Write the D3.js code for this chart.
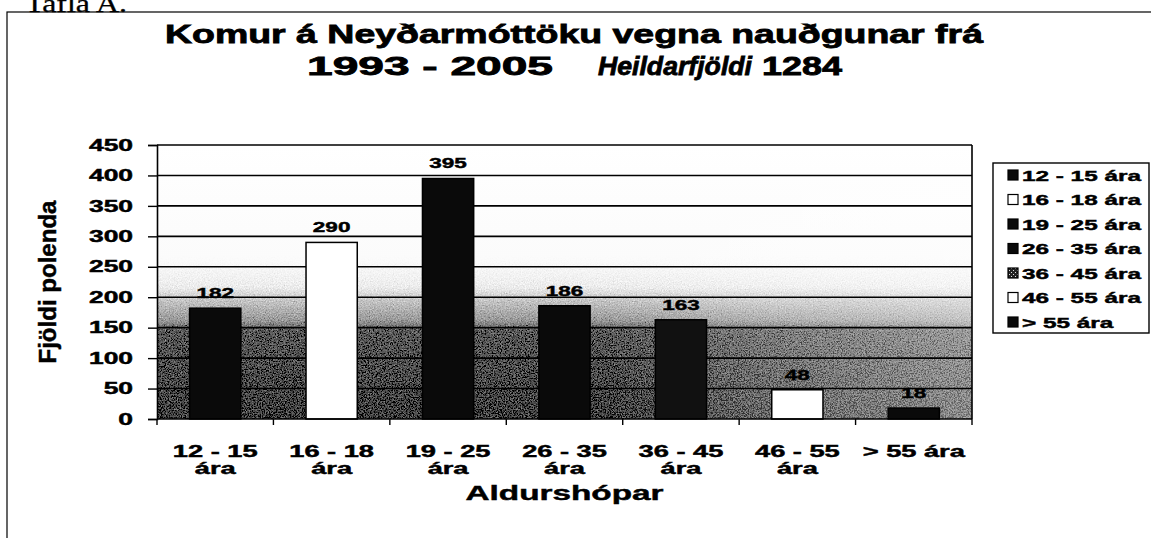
<!DOCTYPE html>
<html>
<head>
<meta charset="utf-8">
<script src="https://cdn.jsdelivr.net/npm/d3@7"></script>
<style>
  body { margin: 0; background: #fff; }
  text { font-family: "Liberation Sans", Arial, sans-serif; font-weight: bold; fill: #000; stroke: #000; stroke-width: 0.45px; }
  .title { stroke-width: 0.8px; }
</style>
</head>
<body>
<div id="chart"></div>
<script>
// data
var categories = ["12 - 15 ára", "16 - 18 ára", "19 - 25 ára", "26 - 35 ára", "36 - 45 ára", "46 - 55 ára", "> 55 ára"];
var counts = [182, 290, 395, 186, 163, 48, 18];
var tickLines = [["12 - 15", "ára"], ["16 - 18", "ára"], ["19 - 25", "ára"], ["26 - 35", "ára"], ["36 - 45", "ára"], ["46 - 55", "ára"], ["> 55 ára"]];
var yTicks = [0, 50, 100, 150, 200, 250, 300, 350, 400, 450];

// bar and legend fills
var barFills = ["#0a0a0a", "#ffffff", "#0a0a0a", "#0a0a0a", "#111111", "#ffffff", "#0a0a0a"];
var legendFills = ["#0a0a0a", "#ffffff", "#0a0a0a", "#0a0a0a", "url(#checks)", "#ffffff", "#0a0a0a"];

window.onload = function() {

  var width = 1151, height = 538;

  var svg = d3.select("#chart").append("svg")
    .attr("width", width)
    .attr("height", height);

  // stretch text sideways like the scan
  function stretch(sel, k) {
    sel.each(function() {
      var w = this.getComputedTextLength();
      d3.select(this).attr("textLength", w * k).attr("lengthAdjust", "spacingAndGlyphs");
    });
  }
  function fit(sel, w) {
    sel.attr("textLength", w).attr("lengthAdjust", "spacingAndGlyphs");
  }

  var x0 = 157, x1 = 972, yTop = 145, yBot = 419;

  var defs = svg.append("defs");

  // background of the plot, dark at the bottom
  var vg = defs.append("linearGradient").attr("id", "shade")
    .attr("gradientUnits", "userSpaceOnUse")
    .attr("x1", 0).attr("y1", yTop).attr("x2", 0).attr("y2", yBot);
  [[0, "#ffffff"], [0.42, "#fbfbfb"], [0.52, "#ececec"], [0.57, "#c4c4c4"], [0.64, "#9a9a9a"], [0.68, "#5a5a5a"], [1, "#404040"]]
    .forEach(function(s) { vg.append("stop").attr("offset", s[0]).attr("stop-color", s[1]); });

  var hg = defs.append("linearGradient").attr("id", "fade")
    .attr("x1", 0).attr("y1", 0).attr("x2", 1).attr("y2", 0);
  [[0, 0], [0.55, 0], [0.75, 0.22], [1, 0.4]]
    .forEach(function(s) { hg.append("stop").attr("offset", s[0]).attr("stop-color", "#fff").attr("stop-opacity", s[1]); });

  // speckle like the printed dither, faded in from the top
  var grain = defs.append("filter").attr("id", "grain")
    .attr("x", 0).attr("y", 0).attr("width", 1).attr("height", 1);
  grain.append("feTurbulence")
    .attr("type", "fractalNoise").attr("baseFrequency", 0.75)
    .attr("numOctaves", 2).attr("seed", 7).attr("result", "noise");
  grain.append("feColorMatrix")
    .attr("in", "noise").attr("type", "matrix")
    .attr("values", "0.33 0.33 0.33 0 0  0.33 0.33 0.33 0 0  0.33 0.33 0.33 0 0  0 0 0 0 1")
    .attr("result", "gray");
  grain.append("feComposite")
    .attr("in", "SourceGraphic").attr("in2", "gray")
    .attr("operator", "arithmetic")
    .attr("k1", 0).attr("k2", 1).attr("k3", 1.1).attr("k4", -0.55);

  var mg = defs.append("linearGradient").attr("id", "grainFade")
    .attr("gradientUnits", "userSpaceOnUse")
    .attr("x1", 0).attr("y1", yTop).attr("x2", 0).attr("y2", yBot);
  [[0, 0], [0.4, 0], [0.55, 1], [1, 1]]
    .forEach(function(s) { mg.append("stop").attr("offset", s[0]).attr("stop-color", "#fff").attr("stop-opacity", s[1]); });
  defs.append("mask").attr("id", "grainMask")
    .attr("maskUnits", "userSpaceOnUse")
    .attr("x", x0).attr("y", yTop).attr("width", x1 - x0).attr("height", yBot - yTop)
    .append("rect")
      .attr("x", x0).attr("y", yTop).attr("width", x1 - x0).attr("height", yBot - yTop)
      .attr("fill", "url(#grainFade)");

  var pat = defs.append("pattern").attr("id", "checks")
    .attr("width", 4).attr("height", 4).attr("patternUnits", "userSpaceOnUse");
  pat.append("rect").attr("width", 4).attr("height", 4).attr("fill", "#222");
  pat.append("rect").attr("x", 1).attr("y", 1).attr("width", 1).attr("height", 1).attr("fill", "#ddd");
  pat.append("rect").attr("x", 3).attr("y", 3).attr("width", 1).attr("height", 1).attr("fill", "#ddd");

  // caption above the frame, mostly cut off
  fit(svg.append("text")
    .attr("x", 25).attr("y", 12)
    .style("font-family", "'Liberation Serif', 'Times New Roman', serif")
    .style("font-weight", "normal")
    .style("stroke-width", "0.3px")
    .style("font-size", "26px")
    .text("Tafla A."), 102);

  // outer frame
  svg.append("rect")
    .attr("x", 7).attr("y", 12)
    .attr("width", 1160).attr("height", 540)
    .attr("fill", "none").attr("stroke", "#000").attr("stroke-width", 1.2);

  // title
  fit(svg.append("text").attr("class", "title").attr("x", 165).attr("y", 43).style("font-size", "26px")
    .text("Komur á Neyðarmóttöku vegna nauðgunar frá"), 818);
  fit(svg.append("text").attr("class", "title").attr("x", 307).attr("y", 75).style("font-size", "26px")
    .text("1993 - 2005"), 246);
  fit(svg.append("text").attr("class", "title").attr("x", 598).attr("y", 75).style("font-size", "26px").style("font-style", "italic")
    .text("Heildarfjöldi"), 154);
  fit(svg.append("text").attr("class", "title").attr("x", 762).attr("y", 75).style("font-size", "26px")
    .text("1284"), 80);

  // scales
  var x = d3.scaleBand()
    .domain(categories)
    .range([x0, x1])
    .paddingInner(0.56)
    .paddingOuter(0.28);

  var xOuter = d3.scaleBand()
    .domain(categories)
    .range([x0, x1]);

  var y = d3.scaleLinear()
    .domain([0, 450])
    .range([yBot, yTop]);

  // plot background: clean gradient, speckle fading in lower down
  svg.append("rect")
    .attr("x", x0).attr("y", yTop)
    .attr("width", x1 - x0).attr("height", yBot - yTop)
    .attr("fill", "url(#shade)");
  svg.append("g")
    .attr("mask", "url(#grainMask)")
    .append("rect")
      .attr("x", x0).attr("y", yTop)
      .attr("width", x1 - x0).attr("height", yBot - yTop)
      .attr("fill", "url(#shade)")
      .attr("filter", "url(#grain)");
  svg.append("rect")
    .attr("x", x0).attr("y", yTop)
    .attr("width", x1 - x0).attr("height", yBot - yTop)
    .attr("fill", "url(#fade)");

  // gridlines
  svg.append("g")
    .selectAll("line")
    .data(yTicks.filter(function(d) { return d > 0; }))
    .enter().append("line")
      .attr("x1", x0).attr("x2", x1)
      .attr("y1", function(d) { return y(d); })
      .attr("y2", function(d) { return y(d); })
      .attr("stroke", "#000")
      .attr("stroke-width", 1.6);

  // right edge of plot
  svg.append("line")
    .attr("x1", x1).attr("x2", x1).attr("y1", yTop).attr("y2", yBot)
    .attr("stroke", "#000").attr("stroke-width", 1.6);

  // bars
  svg.append("g")
    .selectAll("rect")
    .data(counts)
    .enter().append("rect")
      .attr("x", function(d, i) { return x(categories[i]); })
      .attr("y", function(d) { return y(d); })
      .attr("width", x.bandwidth())
      .attr("height", function(d) { return y(0) - y(d); })
      .attr("fill", function(d, i) { return barFills[i]; })
      .attr("stroke", "#000")
      .attr("stroke-width", 1.5);

  // value labels
  svg.append("g")
    .selectAll("text")
    .data(counts)
    .enter().append("text")
      .attr("x", function(d, i) { return x(categories[i]) + x.bandwidth() / 2; })
      .attr("y", function(d) { return y(d) - 10; })
      .attr("text-anchor", "middle")
      .style("font-size", "15px")
      .text(function(d) { return d; })
      .call(stretch, 1.5);

  // y axis
  var yAxis = d3.axisLeft(y)
    .tickValues(yTicks)
    .tickSize(9)
    .tickPadding(15);

  var yGuide = svg.append("g")
    .attr("transform", "translate(" + x0 + ",0)")
    .call(yAxis);
  yGuide.select(".domain").attr("stroke", "#000").attr("stroke-width", 1.6);
  yGuide.selectAll("line").attr("stroke", "#000").attr("stroke-width", 1.4);
  yGuide.selectAll("text")
    .style("font-size", "16px")
    .style("font-family", "'Liberation Sans', Arial, sans-serif")
    .style("font-weight", "bold")
    .attr("fill", "#000")
    .call(stretch, 1.65);

  // x axis line and ticks on the category edges
  svg.append("line")
    .attr("x1", x0).attr("x2", x1).attr("y1", yBot).attr("y2", yBot)
    .attr("stroke", "#000").attr("stroke-width", 1.6);

  var edges = categories.map(function(c) { return xOuter(c); }).concat([x1]);
  svg.append("g")
    .selectAll("line")
    .data(edges)
    .enter().append("line")
      .attr("x1", function(d) { return d; })
      .attr("x2", function(d) { return d; })
      .attr("y1", yBot).attr("y2", yBot + 6)
      .attr("stroke", "#000").attr("stroke-width", 1.4);

  // category labels, two lines
  var xLab = svg.append("g")
    .selectAll("g")
    .data(tickLines)
    .enter().append("g");
  xLab.each(function(lines, i) {
    var cx = xOuter(categories[i]) + xOuter.bandwidth() / 2;
    var g = d3.select(this);
    lines.forEach(function(t, j) {
      g.append("text")
        .attr("x", cx)
        .attr("y", 457 + j * 16.5)
        .attr("text-anchor", "middle")
        .style("font-size", "16px")
        .text(t)
        .call(stretch, 1.7);
    });
  });

  // axis titles
  fit(svg.append("text")
    .attr("x", (x0 + x1) / 2)
    .attr("y", 500)
    .attr("text-anchor", "middle")
    .style("font-size", "21px")
    .text("Aldurshópar"), 198);

  fit(svg.append("text")
    .attr("transform", "translate(56," + ((yTop + yBot) / 2) + ")rotate(-90)")
    .attr("text-anchor", "middle")
    .style("font-size", "23px")
    .text("Fjöldi polenda"), 163);

  // legend
  var legend = svg.append("g");
  legend.append("rect")
    .attr("x", 993).attr("y", 163)
    .attr("width", 156).attr("height", 170)
    .attr("fill", "#fff")
    .attr("stroke", "#000").attr("stroke-width", 1.4);

  var rows = legend.selectAll("g.row")
    .data(categories)
    .enter().append("g")
      .attr("class", "row")
      .attr("transform", function(d, i) { return "translate(1008," + (175 + i * 24.5) + ")"; });

  rows.append("rect")
    .attr("x", 0).attr("y", -5)
    .attr("width", 10).attr("height", 10)
    .attr("fill", function(d, i) { return legendFills[i]; })
    .attr("stroke", "#000").attr("stroke-width", 1.2);

  rows.append("text")
    .attr("x", 14).attr("y", 5.5)
    .style("font-size", "15px")
    .text(function(d) { return d; })
    .call(stretch, 1.62);
};
</script>
</body>
</html>
